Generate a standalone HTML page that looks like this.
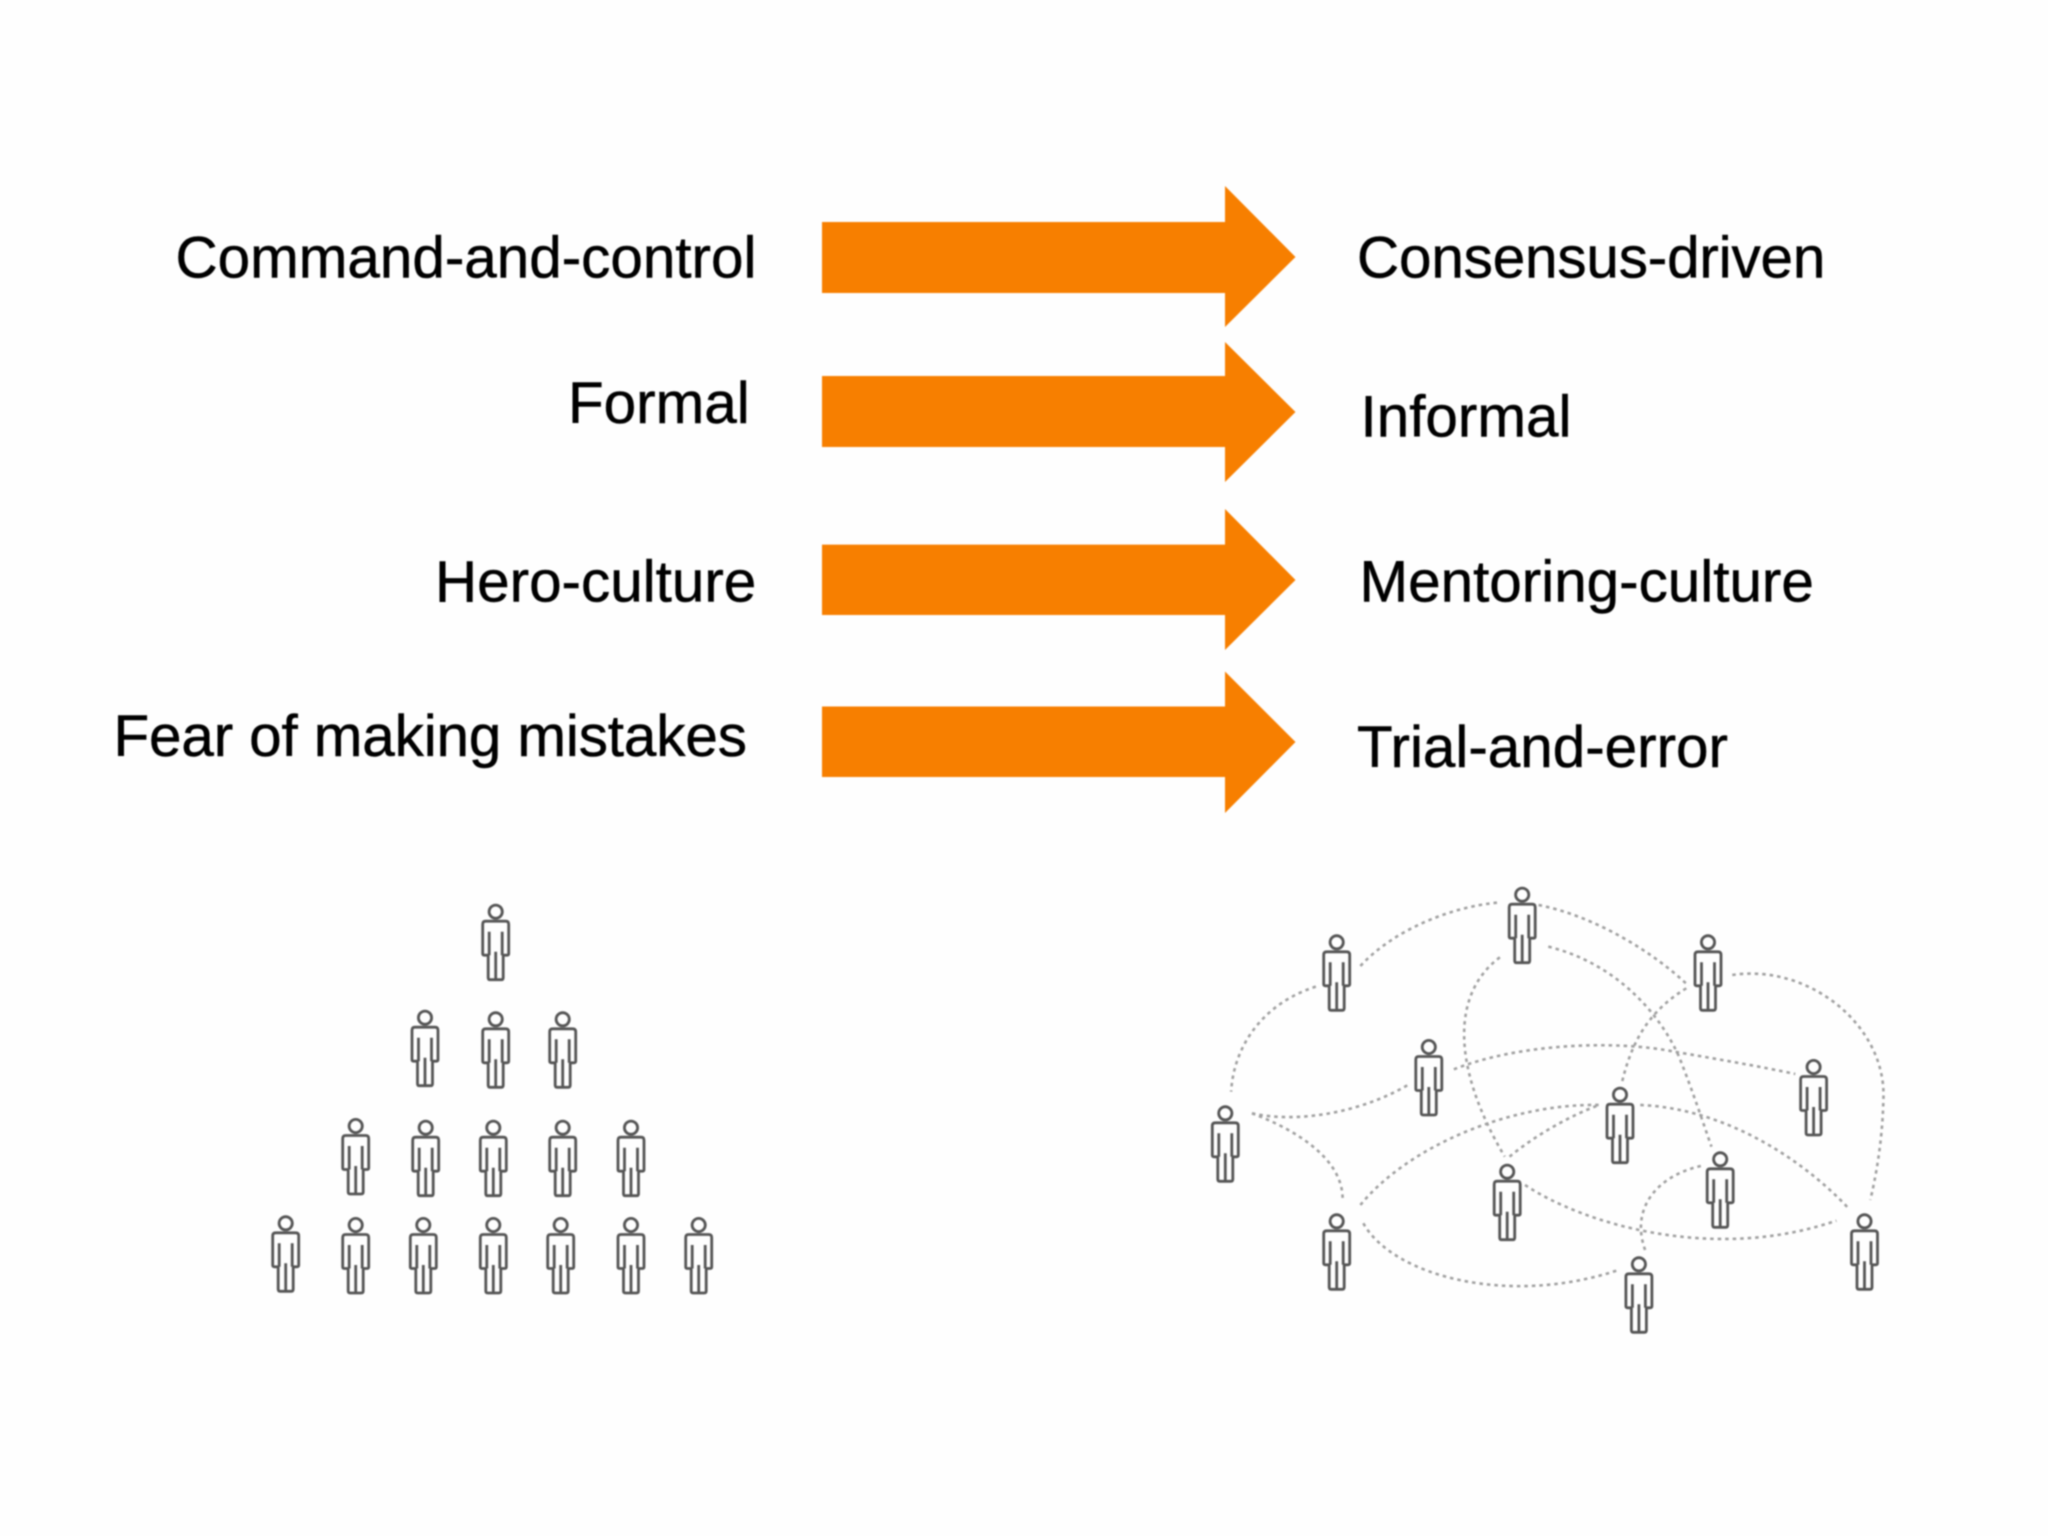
<!DOCTYPE html>
<html><head><meta charset="utf-8"><style>
html,body{margin:0;padding:0;background:#fefefe;width:2048px;height:1536px;overflow:hidden}
svg{display:block;filter:blur(0.7px)}
text{font-family:"Liberation Sans",Arial,sans-serif;font-size:58.4px;fill:#000;stroke:#000;stroke-width:.5px}
</style></head><body>
<svg width="2048" height="1536" viewBox="0 0 2048 1536" xmlns="http://www.w3.org/2000/svg">
<defs>
<g id="p" fill="none" stroke="#555" stroke-width="2.8" stroke-linejoin="round">
<circle cx="0" cy="0" r="6.6"/>
<path d="M-10,9.5H10Q13,9.5 13,12.5V42Q13,43.5 11,43.5H7.5V66Q7.5,68 5.5,68H-5.5Q-7.5,68 -7.5,66V43.5H-11Q-13,43.5 -13,42V12.5Q-13,9.5 -10,9.5Z"/>
<path d="M-6.5,20V43.5M6.5,20V43.5M0,40V68"/>
</g>
</defs>
<g fill="#f77f00">
<path d="M822,222H1225V186L1295.5,257L1225,327V293H822Z"/>
<path d="M822,376H1225V342L1295.5,412L1225,482V447H822Z"/>
<path d="M822,544.6H1225V509L1295.5,580L1225,650V615H822Z"/>
<path d="M822,706.5H1225V671.5L1295.5,742L1225,813V777H822Z"/>
</g>
<text x="175.500" y="277.7">Command-and-control</text>
<text x="568" y="423">Formal</text>
<text x="435" y="601.7">Hero-culture</text>
<text x="113.500" y="756" style="letter-spacing:-.12px">Fear of making mistakes</text>
<text x="1357" y="277.7" style="letter-spacing:-.15px">Consensus-driven</text>
<text x="1360.500" y="436.7">Informal</text>
<text x="1359.500" y="601.7">Mentoring-culture</text>
<text x="1357" y="767">Trial-and-error</text>
<use href="#p" x="495.7" y="911.7"/>
<use href="#p" x="425" y="1017.7"/><use href="#p" x="495.7" y="1019.3"/><use href="#p" x="562.7" y="1019.3"/>
<use href="#p" x="355.7" y="1126"/><use href="#p" x="425.7" y="1127.7"/><use href="#p" x="493.3" y="1127.7"/><use href="#p" x="562.7" y="1127.7"/><use href="#p" x="631" y="1127.7"/>
<use href="#p" x="285.7" y="1223.3"/><use href="#p" x="355.7" y="1225"/><use href="#p" x="423.3" y="1225"/><use href="#p" x="493.3" y="1225"/><use href="#p" x="560.7" y="1225"/><use href="#p" x="631" y="1225"/><use href="#p" x="698.7" y="1225"/>
<use href="#p" x="1522.2" y="894.7"/><use href="#p" x="1336.7" y="942.3"/><use href="#p" x="1708" y="942.3"/><use href="#p" x="1428.8" y="1047"/><use href="#p" x="1813.6" y="1067"/><use href="#p" x="1225.3" y="1113.3"/><use href="#p" x="1620" y="1094.7"/><use href="#p" x="1507.2" y="1171.7"/><use href="#p" x="1720.2" y="1159.3"/><use href="#p" x="1336.7" y="1221.3"/><use href="#p" x="1864.5" y="1221.3"/><use href="#p" x="1638.9" y="1264.3"/>
<g transform="translate(1180.3,860) scale(.4842,.3333)" fill="none" stroke="#a0a0a0" stroke-width="2.6" stroke-dasharray="3.5 4">
<path vector-effect="non-scaling-stroke" d="M372,318C440,210 560,140 655,128"/>
<path vector-effect="non-scaling-stroke" d="M280,380C170,430 110,560 105,695"/>
<path vector-effect="non-scaling-stroke" d="M740,135C860,170 980,280 1050,378"/>
<path vector-effect="non-scaling-stroke" d="M660,292C560,400 560,620 670,890"/>
<path vector-effect="non-scaling-stroke" d="M760,260C900,310 990,460 1030,590C1060,700 1080,790 1097,860"/>
<path vector-effect="non-scaling-stroke" d="M1045,385C960,460 930,560 912,668"/>
<path vector-effect="non-scaling-stroke" d="M1140,345C1300,310 1460,500 1452,720C1450,850 1435,960 1425,1020"/>
<path vector-effect="non-scaling-stroke" d="M565,628C700,550 900,540 1020,575C1100,595 1200,620 1270,642"/>
<path vector-effect="non-scaling-stroke" d="M148,760C240,790 370,760 470,675"/>
<path vector-effect="non-scaling-stroke" d="M148,760C240,810 340,900 335,1025"/>
<path vector-effect="non-scaling-stroke" d="M372,1035C470,860 680,730 865,735"/>
<path vector-effect="non-scaling-stroke" d="M680,890C730,830 800,770 865,735"/>
<path vector-effect="non-scaling-stroke" d="M950,735C1120,745 1280,890 1380,1045"/>
<path vector-effect="non-scaling-stroke" d="M712,975C830,1090 1100,1210 1355,1082"/>
<path vector-effect="non-scaling-stroke" d="M1075,918C980,950 930,1050 960,1170"/>
<path vector-effect="non-scaling-stroke" d="M378,1090C440,1250 680,1340 905,1230"/>
</g>
</svg>
</body></html>
